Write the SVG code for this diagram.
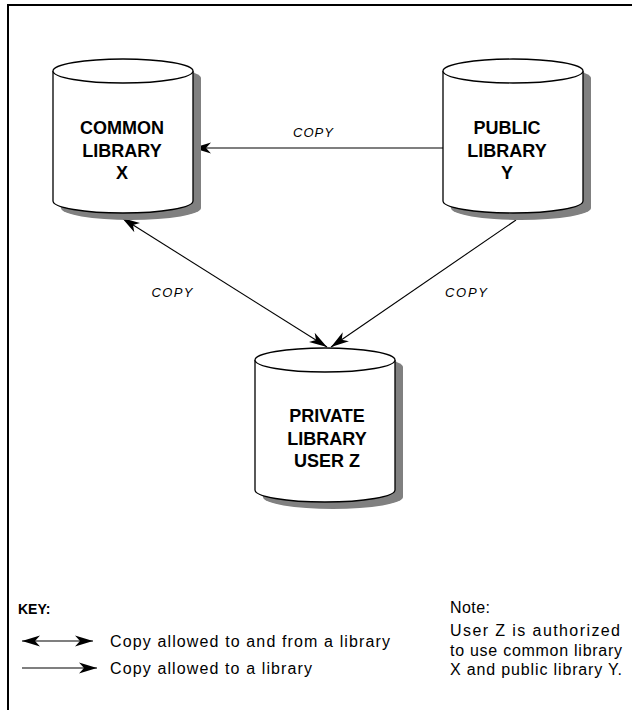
<svg xmlns="http://www.w3.org/2000/svg" xmlns:xlink="http://www.w3.org/1999/xlink" width="632" height="710" viewBox="0 0 632 710">
<style>
.frame{fill:none;stroke:#000;stroke-width:2}
.shadow{fill:#808080}
.body{fill:#fff;stroke:#000;stroke-width:1.3}
.lbl{font-family:"Liberation Sans",Arial,sans-serif;font-weight:bold;font-size:18px;fill:#000;text-anchor:middle}
.copy{font-family:"Liberation Sans",Arial,sans-serif;font-style:italic;font-size:13px;fill:#000;text-anchor:middle}
.conn line{stroke:#000;stroke-width:1.1}
.key{font-family:"Liberation Sans",Arial,sans-serif;font-size:16px;fill:#000}
.keyb{font-family:"Liberation Sans",Arial,sans-serif;font-size:14px;font-weight:bold;fill:#000}
</style>
<defs>
<marker id="ah" viewBox="0 0 18 12" refX="18" refY="6" markerWidth="18" markerHeight="12" markerUnits="userSpaceOnUse" orient="auto-start-reverse">
<path d="M18,6 L0,0.5 L5,6 L0,11.5 Z" fill="#000"/>
</marker>
<g id="cyl">
<path class="shadow" transform="translate(8,7)" d="M0,12 L0,142 A70,12 0 0 0 140,142 L140,12 A70,12 0 0 0 0,12 Z"/>
<path class="body" d="M0,12 L0,142 A70,12 0 0 0 140,142 L140,12"/>
<ellipse class="body" cx="70" cy="12" rx="70" ry="12"/>
</g>
</defs>
<rect width="632" height="710" fill="#fff"/>
<path class="frame" d="M8,710 L8,5 L632,5"/>
<g id="connectors" class="conn">
<line x1="443" y1="148" x2="193" y2="148" marker-end="url(#ah)"/>
<line x1="122" y1="218" x2="327" y2="347" marker-start="url(#ah)" marker-end="url(#ah)"/>
<line x1="516" y1="220" x2="331" y2="347" marker-end="url(#ah)"/>
<text class="copy" x="313" y="137" textLength="40">COPY</text>
<text class="copy" x="172" y="297" textLength="41">COPY</text>
<text class="copy" x="466" y="297" textLength="42">COPY</text>
</g>
<g id="node-x">
<use xlink:href="#cyl" transform="translate(53,59)"/>
<text class="lbl" x="122" y="133.5">COMMON</text>
<text class="lbl" x="122" y="156.5">LIBRARY</text>
<text class="lbl" x="122" y="178.5">X</text>
</g>
<g id="node-y">
<use xlink:href="#cyl" transform="translate(443,59)"/>
<text class="lbl" x="507" y="133.5">PUBLIC</text>
<text class="lbl" x="507" y="156.5">LIBRARY</text>
<text class="lbl" x="507" y="178.5">Y</text>
</g>
<g id="node-z">
<use xlink:href="#cyl" transform="translate(255,348)"/>
<text class="lbl" x="327" y="421.5">PRIVATE</text>
<text class="lbl" x="327" y="444.5">LIBRARY</text>
<text class="lbl" x="327" y="466.5">USER Z</text>
</g>
<g id="legend">
<text class="keyb" x="18" y="614">KEY:</text>
<line x1="22" y1="641" x2="93" y2="641" stroke="#000" stroke-width="1.1" marker-start="url(#ah)" marker-end="url(#ah)"/>
<line x1="22" y1="668" x2="97" y2="668" stroke="#000" stroke-width="1.1" marker-end="url(#ah)"/>
<text class="key" x="110" y="646.5" textLength="280">Copy allowed to and from a library</text>
<text class="key" x="110" y="673.5" textLength="202">Copy allowed to a library</text>
</g>
<g id="note">
<text class="key" x="450" y="613" textLength="40">Note:</text>
<text class="key" x="450" y="636" textLength="170">User Z is authorized</text>
<text class="key" x="450" y="656" textLength="172">to use common library</text>
<text class="key" x="450" y="675" textLength="172">X and public library Y.</text>
</g>
</svg>
